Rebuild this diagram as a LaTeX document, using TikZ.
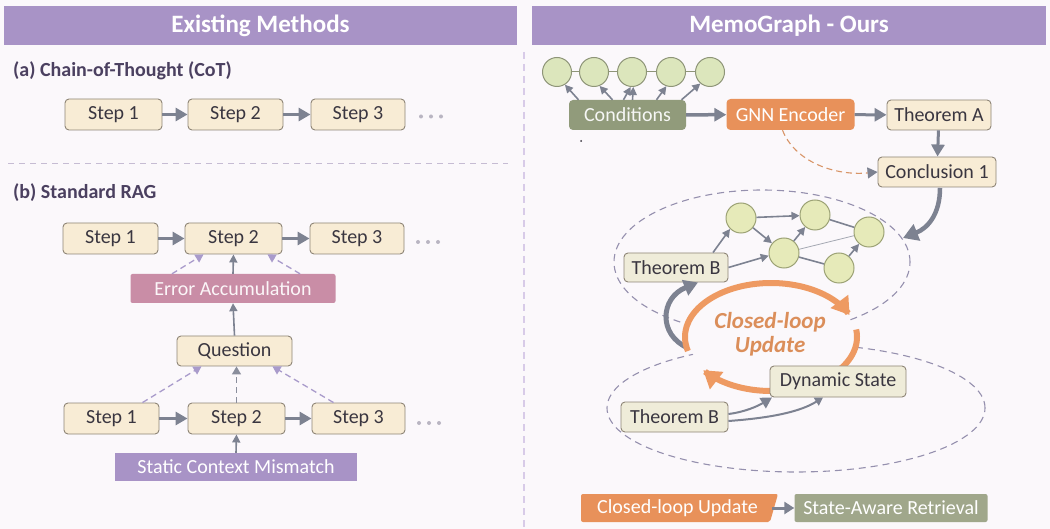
\documentclass[tikz,border=0pt]{standalone}
\usepackage{fontspec}
\setmainfont{Carlito}
\usetikzlibrary{arrows.meta}
\definecolor{bg}{HTML}{FBF8FB}
\definecolor{headpurple}{HTML}{A893C6}
\definecolor{ink}{HTML}{3A3640}
\definecolor{labelink}{HTML}{4B4060}
\definecolor{cream}{HTML}{F8ECD5}
\definecolor{beige}{HTML}{EFECD9}
\definecolor{boxedge}{HTML}{8E8576}
\definecolor{arrowgray}{HTML}{7D8291}
\definecolor{dashpurple}{HTML}{A99BCB}
\definecolor{divider}{HTML}{D8CBE8}
\definecolor{errpink}{HTML}{C98DA6}
\definecolor{scmpurple}{HTML}{A893C6}
\definecolor{olive}{HTML}{919B7B}
\definecolor{olivelight}{HTML}{A0A78B}
\definecolor{gnnorange}{HTML}{E8915A}
\definecolor{looporange}{HTML}{EE9A62}
\definecolor{leaf}{HTML}{DCE6BC}
\definecolor{leafedge}{HTML}{8E9578}
\definecolor{node}{HTML}{E6EAB9}
\definecolor{nodeedge}{HTML}{9CA275}
\definecolor{ellipsegray}{HTML}{9590AE}
\definecolor{dotgray}{HTML}{B9B5C2}
\begin{document}
\begin{tikzpicture}[x=1pt,y=-1pt,
  txt/.style={font=\fontsize{20}{24}\selectfont},
  box/.style={txt, draw=boxedge, line width=0.9pt, rounded corners=4pt,
    fill=cream, text=ink, inner sep=0pt, minimum height=31pt},
  softbox/.style={box, fill=beige},
  band/.style={txt, inner sep=0pt, minimum height=29pt, text=white},
  header/.style={inner sep=0pt, minimum height=39pt, fill=headpurple,
    text=white, font=\fontsize{25}{30}\selectfont\bfseries},
  section/.style={anchor=west, inner sep=0pt, text=labelink,
    font=\fontsize{20}{24}\selectfont\bfseries},
  flow/.style={draw=arrowgray, line width=3.5pt,
    -{Triangle[length=12pt,width=13pt]}},
  thin/.style={draw=arrowgray, line width=1.6pt,
    -{Triangle[length=8pt,width=8pt]}},
  hint/.style={draw=dashpurple, line width=1.3pt, dash pattern=on 6pt off 4pt,
    -{Triangle[length=8pt,width=9pt]}},
  leafnode/.style={circle, draw=leafedge, line width=1pt, fill=leaf,
    minimum size=29pt, inner sep=0pt},
  gnode/.style={circle, draw=nodeedge, line width=1pt, fill=node,
    minimum size=30pt, inner sep=0pt},
  region/.style={draw=ellipsegray, line width=1.1pt, dash pattern=on 7pt off 5pt},
  dots/.style={fill=dotgray}
]
\useasboundingbox (0,0) rectangle (1050,529);
\fill[bg] (0,0) rectangle (1050,529);

% ---------- headers and dividers ----------
\node[header, minimum width=513pt] (hleft) at (260.5,25.5) {Existing Methods};
\node[header, minimum width=514pt] (hright) at (789,25.5) {MemoGraph - Ours};
\draw[divider, line width=1.6pt, dash pattern=on 7pt off 5pt] (524,52) -- (524,529);
\draw[divider!80!gray, line width=1.2pt, dash pattern=on 6pt off 5pt] (8,163.5) -- (508,163.5);

% ---------- (a) Chain-of-Thought ----------
\node[section] (la) at (13,71) {(a) Chain-of-Thought (CoT)};
\node[box, minimum width=97pt] (a1) at (113.5,114.5) {Step 1};
\node[box, minimum width=95pt] (a2) at (235.5,114.5) {Step 2};
\node[box, minimum width=94pt] (a3) at (358,114.5) {Step 3};
\draw[flow] (a1) -- (a2);
\draw[flow] (a2) -- (a3);
\foreach \d in {421,431,441} \fill[dots] (\d,116.5) circle (2pt);

% ---------- (b) Standard RAG ----------
\node[section] (lb) at (13,193) {(b) Standard RAG};
\node[box, minimum width=95pt] (r1) at (110.5,238.5) {Step 1};
\node[box, minimum width=97pt] (r2) at (233.5,238.5) {Step 2};
\node[box, minimum width=94pt] (r3) at (357,238.5) {Step 3};
\draw[flow] (r1) -- (r2);
\draw[flow] (r2) -- (r3);
\foreach \d in {418,428,438} \fill[dots] (\d,242) circle (2pt);

\node[band, fill=errpink, rounded corners=2pt, minimum width=205pt, text=white!92!errpink]
  (err) at (233,288.5) {Error Accumulation};
\draw[thin] (err.north) -- (r2.south);
\draw[hint] ([xshift=-61pt]err.north) -- ([xshift=-30pt]r2.south);
\draw[hint] ([xshift=67pt]err.north) -- ([xshift=34pt]r2.south);

\node[box, minimum width=115pt, minimum height=30pt] (q) at (234.5,351) {Question};
\draw[thin] (q.north) -- (err.south);

\node[box, minimum width=95pt] (b1) at (111.5,418.5) {Step 1};
\node[box, minimum width=97pt] (b2) at (236.5,418.5) {Step 2};
\node[box, minimum width=93pt] (b3) at (358.5,418.5) {Step 3};
\draw[flow] (b1) -- (b2);
\draw[flow] (b2) -- (b3);
\foreach \d in {419,429,439} \fill[dots] (\d,423) circle (2pt);
\draw[hint] ([xshift=31pt]b1.north) -- ([xshift=-33pt]q.south);
\draw[hint, draw=arrowgray!90] (b2.north) -- ([xshift=2pt]q.south);
\draw[hint] ([xshift=-25pt]b3.north) -- ([xshift=38pt]q.south);

\node[band, fill=scmpurple, minimum width=242pt, minimum height=28pt] (scm) at (236,467)
  {Static Context Mismatch};
\draw[thin] (scm.north) -- (b2.south);

% ---------- MemoGraph: condition graph and encoder ----------
\node[leafnode] (c1) at (557,72) {};
\node[leafnode] (c2) at (594,72) {};
\node[leafnode] (c3) at (632,72) {};
\node[leafnode] (c4) at (671,72) {};
\node[leafnode] (c5) at (710,72) {};
\foreach \u/\v in {c1/c2,c2/c3,c3/c4,c4/c5}
  \draw[leafedge, line width=1pt] (\u) -- (\v);

\node[band, fill=olive, rounded corners=4pt, minimum width=117pt, minimum height=30pt,
  text=white!92!olive] (cond) at (627.5,115) {Conditions};
\draw[thin] ([xshift=-49pt]cond.north) -- (c1.-58);
\draw[thin] ([xshift=-15pt]cond.north) -- (c2.-68);
\draw[thin] ([xshift=-4pt]cond.north) -- (c3.-95);
\draw[thin] ([xshift=5pt]cond.north) -- (c3.-85);
\draw[thin] ([xshift=29pt]cond.north) -- (c4.-108);
\draw[thin] ([xshift=54pt]cond.north) -- (c5.-130);
\fill[ink] (581,141) circle (1pt);

\node[band, fill=gnnorange, rounded corners=4pt, minimum width=128pt, minimum height=31pt]
  (gnn) at (790.5,114.5) {GNN Encoder};
\node[box, minimum width=104pt, minimum height=30pt] (thA) at (939,115) {Theorem A};
\node[box, minimum width=118pt, minimum height=30pt] (conc) at (937,172) {Conclusion 1};
\draw[flow] (cond) -- (gnn);
\draw[flow, line width=3pt] (gnn) -- (thA);
\draw[flow, line width=3pt] (thA) -- (conc);
\draw[draw=looporange!80!gray, line width=1.1pt, dash pattern=on 6pt off 4pt,
  -{Triangle[length=10pt,width=11pt,color=arrowgray]}]
  ([xshift=-8pt]gnn.south) .. controls (795,162) and (835,176) .. (conc.west);

% ---------- dashed regions ----------
\draw[region] (762,262) ellipse [x radius=148pt, y radius=72pt];
\draw[region] (796,408) ellipse [x radius=189pt, y radius=64pt];
\fill[bg] (771,337) ellipse [x radius=83pt, y radius=51pt];

% ---------- retrieved subgraph ----------
\node[gnode] (g1) at (741,218) {};
\node[gnode] (g2) at (815,215) {};
\node[gnode] (g3) at (784,253) {};
\node[gnode] (g4) at (869,232) {};
\node[gnode] (g5) at (839,268) {};
\draw[thin] (g1) -- (g2);
\draw[thin] (g1) -- (g3);
\draw[thin] (g3) -- (g2);
\draw[arrowgray, line width=1.6pt] (g2) -- (g4);
\draw[arrowgray!70, line width=0.8pt] (g3) -- (g4);
\draw[arrowgray, line width=1.6pt] (g3) -- (g5);
\draw[thin] (g5) -- (g4);

\node[softbox, minimum width=104pt, minimum height=29pt] (thB) at (676,267.5) {Theorem B};
\draw[thin] ([xshift=37pt]thB.north) -- (g1.225);
\draw[thin] (thB.east) -- (g3.190);

\coordinate (concOut) at (940,188);
\draw[draw=arrowgray, line width=4.5pt, -{Triangle[length=15pt,width=17pt]}]
  (concOut) .. controls (940,214) and (928,228) .. (903,238);

% ---------- closed-loop update ----------
\coordinate (loopL) at (688,348);
\draw[draw=arrowgray, line width=5pt, -{Triangle[length=14pt,width=16pt]}]
  (loopL) .. controls (658,335) and (660,298) .. ([xshift=22pt]thB.south);

\draw[looporange, line width=6pt, -{Triangle[length=17pt,width=21pt]}]
  plot[domain=165:336, samples=80] ({771+86*cos(\x)},{337+54*sin(\x)});
\draw[looporange, line width=6pt, -{Triangle[length=17pt,width=21pt]}]
  plot[domain=352:502, samples=80] ({771+86*cos(\x)},{337+54*sin(\x)});
\node[text=looporange!92!black, align=center,
  font=\fontsize{23}{23}\selectfont\bfseries\itshape] (lt) at (770,334)
  {Closed-loop\\[1pt]Update};

\node[softbox, minimum width=136pt] (dyn) at (838,381.5) {Dynamic State};
\node[softbox, minimum width=107pt, minimum height=30pt] (thB2) at (674.5,417) {Theorem B};
\draw[draw=arrowgray, line width=2pt, -{Triangle[length=11pt,width=12pt]}]
  ([yshift=3pt]thB2.east) .. controls (745,412) and (758,406) .. ([xshift=-66pt]dyn.south);
\draw[draw=arrowgray, line width=2pt, -{Triangle[length=8pt,width=9pt]}]
  ([yshift=-4pt]thB2.east) .. controls (770,418) and (800,412) .. ([xshift=-15pt]dyn.south);

% ---------- legend ----------
\fill[gnnorange, rounded corners=2pt] (581,494) -- (778,494) -- (770,522) -- (581,522) -- cycle;
\node[band, minimum width=189pt, minimum height=28pt] (leg1) at (677.5,508) {Closed-loop Update};
\node[band, fill=olivelight, rounded corners=2pt, minimum width=193pt, minimum height=28pt]
  (leg2) at (891,508) {State-Aware Retrieval};
\draw[flow, line width=3pt, -{Triangle[length=10pt,width=12pt]}] (leg1.east) -- (leg2.west);
\end{tikzpicture}
\end{document}
